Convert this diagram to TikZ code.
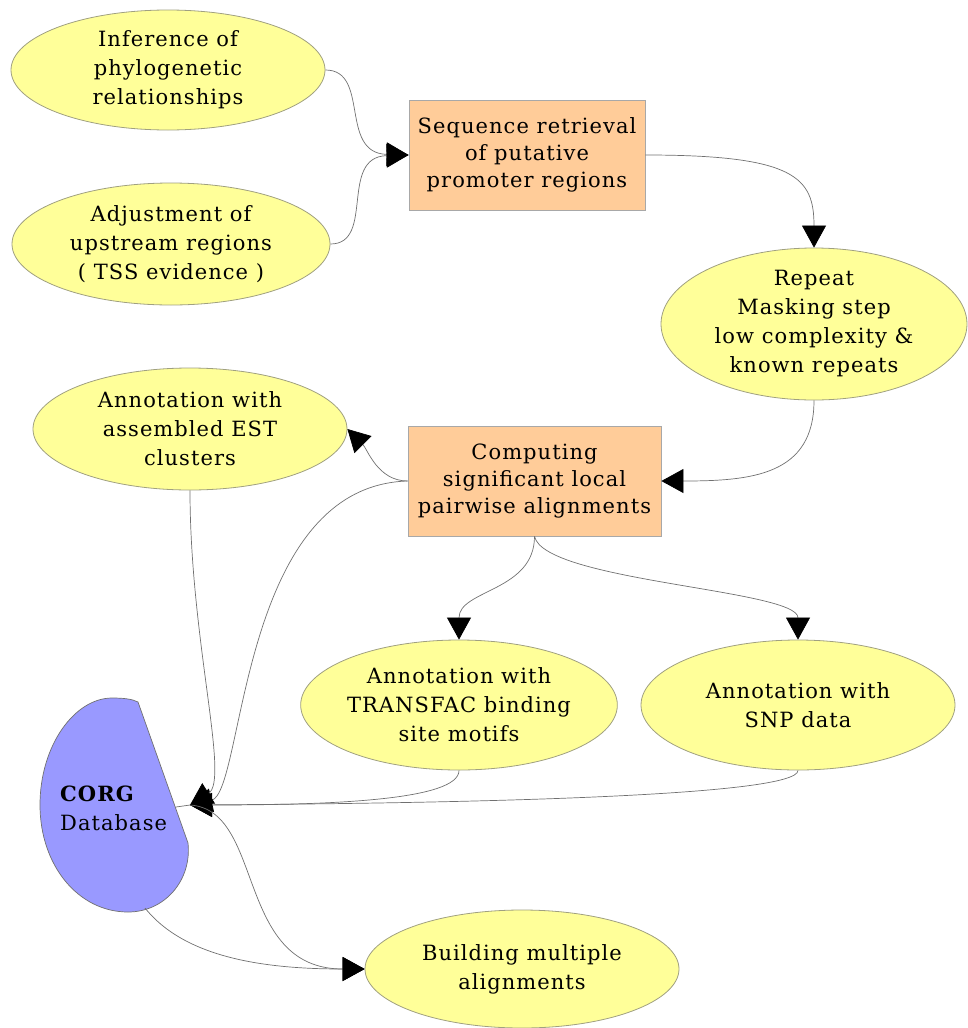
\documentclass[tikz,border=0pt]{standalone}
\usepackage{fontspec}
\setmainfont{DejaVu Serif}[LetterSpace=5]
\usetikzlibrary{shapes.geometric,arrows.meta}

\definecolor{annotfill}{HTML}{FFFF99}
\definecolor{annotline}{HTML}{A0A080}
\definecolor{procfill}{HTML}{FFCC99}
\definecolor{procline}{HTML}{A8A8A8}
\definecolor{dbfill}{HTML}{9999FF}
\definecolor{edgeline}{HTML}{707070}

\tikzset{
  annot/.style={ellipse, draw=annotline, fill=annotfill, line width=0.8pt, inner sep=0pt,
    align=center, font=\fontsize{21}{29}\selectfont},
  procbox/.style={rectangle, draw=procline, fill=procfill, line width=0.8pt, inner sep=0pt,
    align=center, font=\fontsize{21}{27}\selectfont},
  flow/.style={draw=edgeline, line width=0.7pt, -{Triangle[length=22pt,width=24pt,color=black]}},
  plainflow/.style={draw=edgeline, line width=0.7pt},
}

\begin{document}
\begin{tikzpicture}[x=1pt, y=-1pt]

  %% ════ nodes ════
  \node[annot, minimum width=314pt, minimum height=120pt] (inf) at (168,70)
    {Inference of\\phylogenetic\\relationships};
  \node[annot, minimum width=318pt, minimum height=122pt] (adj) at (171,244)
    {Adjustment of\\upstream regions\\( TSS evidence )};
  \node[procbox, minimum width=236pt, minimum height=110pt] (seq) at (527,155)
    {Sequence retrieval\\of putative\\promoter regions};
  \node[annot, minimum width=306pt, minimum height=152pt] (rep) at (814,324)
    {Repeat\\Masking step\\low complexity \&\\known repeats};
  \node[annot, minimum width=314pt, minimum height=122pt] (est) at (190,429)
    {Annotation with\\assembled EST\\clusters};
  \node[procbox, minimum width=253pt, minimum height=110pt] (comp) at (534.5,481)
    {Computing\\significant local\\pairwise alignments};
  \node[annot, minimum width=314pt, minimum height=130pt] (tra) at (459,705)
    {Annotation with\\TRANSFAC binding\\site motifs};
  \node[annot, minimum width=314pt, minimum height=130pt] (snp) at (798,705)
    {Annotation with\\SNP data};
  \node[annot, minimum width=314pt, minimum height=118pt] (bld) at (522,969)
    {Building multiple\\alignments};

  %% ════ CORG database (cut ellipse) ════
  \draw[fill=dbfill, draw=edgeline, line width=0.7pt]
    (138,702) -- (188,843)
    .. controls (192,880) and (165,912) .. (128,912)
    .. controls (78,912) and (40,865) .. (40,805)
    .. controls (40,745) and (75,698) .. (112,698)
    .. controls (124,698) and (132,699) .. (138,702) -- cycle;
  \node[anchor=west, align=left, inner sep=0pt, font=\fontsize{21}{29}\selectfont] (corg) at (60,808)
    {\textbf{CORG}\\Database};
  \coordinate (dbin) at (190,805);
  \coordinate (dbedge) at (176,807);
  \coordinate (dbout) at (145,908);

  %% ════ connectors ════
  \path[flow] (inf.east) .. controls +(45,0) and +(-70,-2) .. (seq.west);
  \path[flow] (adj.east) .. controls +(45,0) and +(-70,2) .. (seq.west);
  \path[flow] (seq.east) .. controls +(150,0) and +(0,-70) .. (rep.north);
  \path[flow] (rep.south) .. controls +(0,75) and +(90,0) .. (comp.east);
  \path[flow] (comp.west) .. controls +(-30,0) and +(20,20) .. (est.east);
  \path[flow] (comp.south) .. controls +(0,55) and +(0,-50) .. (tra.north);
  \path[flow] (comp.south) .. controls +(10,45) and +(0,-50) .. (snp.north);

  % into the database
  \path[plainflow] (dbin) -- (dbedge);
  \path[flow] (comp.west) .. controls +(-170,5) and +(55,-12) .. (dbin);
  \path[flow] (est.south) .. controls +(0,150) and +(40,-25) .. (dbin);
  \path[flow] (tra.south) .. controls +(0,30) and +(140,0) .. (dbin);
  \path[flow] (snp.south) .. controls +(0,25) and +(300,-2) .. (dbin);

  % out of the database
  \path[flow] (dbin) .. controls +(75,5) and +(-130,0) .. (bld.west);
  \path[flow] (dbout) .. controls +(40,50) and +(-100,0) .. (bld.west);

  \pgfresetboundingbox
  \path[use as bounding box] (0,0) rectangle (968,1028);
\end{tikzpicture}
\end{document}
